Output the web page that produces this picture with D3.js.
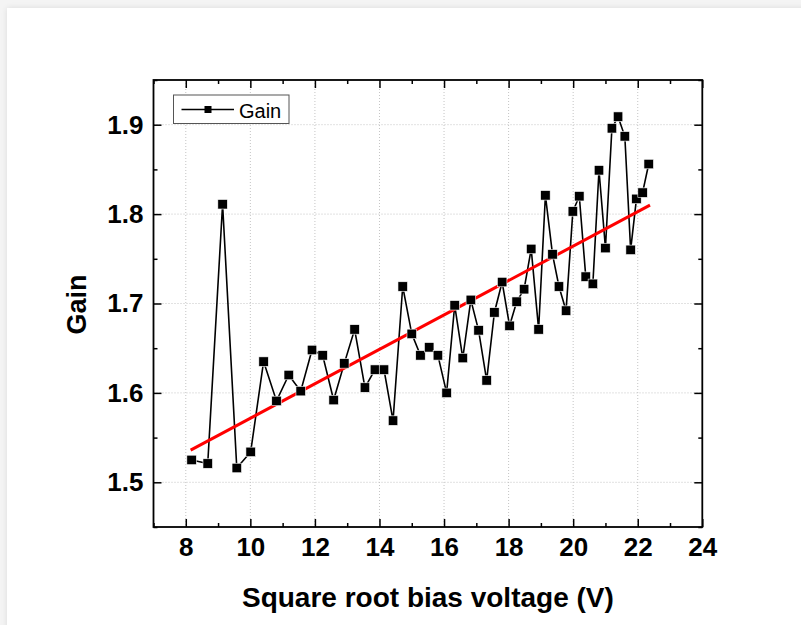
<!DOCTYPE html>
<html>
<head>
<meta charset="utf-8">
<title>Gain vs square root bias voltage</title>
<script src="https://d3js.org/d3.v7.min.js"></script>
<style>
    html, body{
        margin: 0;
        padding: 0;
        background-color: #f4f4f4;
        overflow: hidden;
    }
    .card{
        position: absolute;
        left: 7px;
        top: 8px;
        width: 820px;
        height: 640px;
        background-color: #fff;
        box-shadow: 0 0 6px rgba(0,0,0,0.10);
    }
    #chart{
        position: absolute;
        left: 0;
        top: 0;
    }
    .axis text{
        font-family: 'Liberation Sans', Arial, sans-serif;
        font-weight: 700;
        font-size: 26px;
        fill: #000;
    }
    .axis line{
        stroke: #000;
        stroke-width: 1.5px;
    }
    .axis path{
        stroke: none;
    }
    .grid line{
        stroke: #c4c4c4;
        stroke-width: 1px;
        stroke-dasharray: 1,2;
    }
</style>
</head>
<body>
    <div class="card"></div>
    <div id="chart"></div>

<script>
    // data
    var biasSqrt = [8.18, 8.68, 9.14, 9.58, 10.01, 10.41, 10.81, 11.19, 11.56, 11.91,
                    12.24, 12.58, 12.91, 13.23, 13.55, 13.86, 14.14, 14.42, 14.72, 15.00,
                    15.27, 15.54, 15.81, 16.08, 16.33, 16.58, 16.83, 17.07, 17.32, 17.56,
                    17.80, 18.03, 18.25, 18.48, 18.70, 18.93, 19.14, 19.36, 19.56, 19.78,
                    19.99, 20.19, 20.39, 20.61, 20.80, 21.00, 21.20, 21.39, 21.60, 21.78,
                    21.96, 22.15, 22.34];
    var gain = [1.525, 1.521, 1.811, 1.516, 1.534, 1.635, 1.591, 1.620, 1.602, 1.648,
                1.642, 1.592, 1.633, 1.671, 1.606, 1.626, 1.626, 1.569, 1.719, 1.666,
                1.642, 1.651, 1.642, 1.600, 1.698, 1.639, 1.704, 1.670, 1.614, 1.690,
                1.724, 1.675, 1.702, 1.716, 1.761, 1.671, 1.821, 1.755, 1.719, 1.692,
                1.803, 1.820, 1.730, 1.722, 1.849, 1.762, 1.896, 1.909, 1.887, 1.760,
                1.817, 1.824, 1.856];
    var fitX = [8.15, 22.38];
    var fitY = [1.536, 1.810];

    var xTicks = [8, 10, 12, 14, 16, 18, 20, 22, 24];
    var xMinor = [7, 9, 11, 13, 15, 17, 19, 21, 23];
    var yTicks = [1.5, 1.6, 1.7, 1.8, 1.9];
    var yMinor = [1.45, 1.55, 1.65, 1.75, 1.85, 1.95];

    var width = 801;
    var height = 625;
    var pLeft = 153.5, pRight = 702.3, pTop = 80, pBottom = 527;

    var svg = d3.select('#chart')
                .append('svg')
                .attr('width', width)
                .attr('height', height);

    var x = d3.scaleLinear().domain([7, 24]).range([pLeft, pRight]);
    var y = d3.scaleLinear().domain([1.45, 1.95]).range([pBottom, pTop]);

    // grid
    svg.append('g')
        .attr('class', 'grid')
        .selectAll('line')
        .data(xTicks.filter(function(d){ return d < 24; }))
        .enter().append('line')
        .attr('x1', function(d){ return x(d); })
        .attr('x2', function(d){ return x(d); })
        .attr('y1', pTop)
        .attr('y2', pBottom);

    svg.append('g')
        .attr('class', 'grid')
        .selectAll('line')
        .data(yTicks)
        .enter().append('line')
        .attr('x1', pLeft)
        .attr('x2', pRight)
        .attr('y1', function(d){ return y(d); })
        .attr('y2', function(d){ return y(d); });

    // axes (ticks inside the frame)
    svg.append('g')
        .attr('class', 'axis')
        .attr('transform', 'translate(0,' + pBottom + ')')
        .call(d3.axisBottom(x).tickValues(xTicks).tickSize(-8).tickPadding(11).tickFormat(d3.format('d')));
    svg.append('g')
        .attr('class', 'axis')
        .attr('transform', 'translate(0,' + pBottom + ')')
        .call(d3.axisBottom(x).tickValues(xMinor).tickSize(-4).tickFormat(''));
    svg.append('g')
        .attr('class', 'axis')
        .attr('transform', 'translate(0,' + pTop + ')')
        .call(d3.axisTop(x).tickValues(xTicks).tickSize(-8).tickFormat(''));
    svg.append('g')
        .attr('class', 'axis')
        .attr('transform', 'translate(0,' + pTop + ')')
        .call(d3.axisTop(x).tickValues(xMinor).tickSize(-4).tickFormat(''));

    svg.append('g')
        .attr('class', 'axis')
        .attr('transform', 'translate(' + pLeft + ',0)')
        .call(d3.axisLeft(y).tickValues(yTicks).tickSize(-8).tickPadding(10).tickFormat(d3.format('.1f')));
    svg.append('g')
        .attr('class', 'axis')
        .attr('transform', 'translate(' + pLeft + ',0)')
        .call(d3.axisLeft(y).tickValues(yMinor).tickSize(-4).tickFormat(''));
    svg.append('g')
        .attr('class', 'axis')
        .attr('transform', 'translate(' + pRight + ',0)')
        .call(d3.axisRight(y).tickValues(yTicks).tickSize(-8).tickFormat(''));
    svg.append('g')
        .attr('class', 'axis')
        .attr('transform', 'translate(' + pRight + ',0)')
        .call(d3.axisRight(y).tickValues(yMinor).tickSize(-4).tickFormat(''));

    // frame
    svg.append('rect')
        .attr('x', pLeft)
        .attr('y', pTop)
        .attr('width', pRight - pLeft)
        .attr('height', pBottom - pTop)
        .style('fill', 'none')
        .style('stroke', '#000')
        .style('stroke-width', '1.8px');

    // data line + markers
    var points = biasSqrt.map(function(d, i){ return [d, gain[i]]; });

    var line = d3.line()
        .x(function(d){ return x(d[0]); })
        .y(function(d){ return y(d[1]); });

    svg.append('path')
        .datum(points)
        .attr('d', line)
        .style('fill', 'none')
        .style('stroke', '#000')
        .style('stroke-width', '1.6px');

    svg.append('path')
        .datum(fitX.map(function(d, i){ return [d, fitY[i]]; }))
        .attr('d', line)
        .style('fill', 'none')
        .style('stroke', '#ff0000')
        .style('stroke-width', '3px');

    var size = 9.5;
    svg.append('g')
        .selectAll('rect')
        .data(points)
        .enter().append('rect')
        .attr('x', function(d){ return x(d[0]) - size / 2; })
        .attr('y', function(d){ return y(d[1]) - size / 2; })
        .attr('width', size)
        .attr('height', size)
        .style('fill', '#000')
        .style('stroke', '#fff')
        .style('stroke-width', '0.6px');

    // legend
    var legend = svg.append('g');
    legend.append('rect')
        .attr('x', 173.5)
        .attr('y', 95)
        .attr('width', 115.5)
        .attr('height', 28.5)
        .style('fill', '#fff')
        .style('stroke', '#555')
        .style('stroke-width', '1px');
    legend.append('line')
        .attr('x1', 181.5)
        .attr('x2', 234)
        .attr('y1', 109.5)
        .attr('y2', 109.5)
        .style('stroke', '#000')
        .style('stroke-width', '1.6px');
    legend.append('rect')
        .attr('x', 204.5)
        .attr('y', 106)
        .attr('width', 7)
        .attr('height', 7)
        .style('fill', '#000');
    legend.append('text')
        .attr('x', 239)
        .attr('y', 117.5)
        .text('Gain')
        .style('font-family', 'Liberation Sans, Arial, sans-serif')
        .style('font-size', '20px')
        .style('fill', '#000');

    // axis titles
    svg.append('text')
        .attr('x', (pLeft + pRight) / 2)
        .attr('y', 607)
        .attr('text-anchor', 'middle')
        .text('Square root bias voltage (V)')
        .style('font-family', 'Liberation Sans, Arial, sans-serif')
        .style('font-weight', '700')
        .style('font-size', '28px')
        .style('fill', '#000');

    svg.append('text')
        .attr('transform', 'translate(86,' + ((pTop + pBottom) / 2 + 1) + ') rotate(-90)')
        .attr('text-anchor', 'middle')
        .text('Gain')
        .style('font-family', 'Liberation Sans, Arial, sans-serif')
        .style('font-weight', '700')
        .style('font-size', '27px')
        .style('fill', '#000');
</script>
</body>
</html>
